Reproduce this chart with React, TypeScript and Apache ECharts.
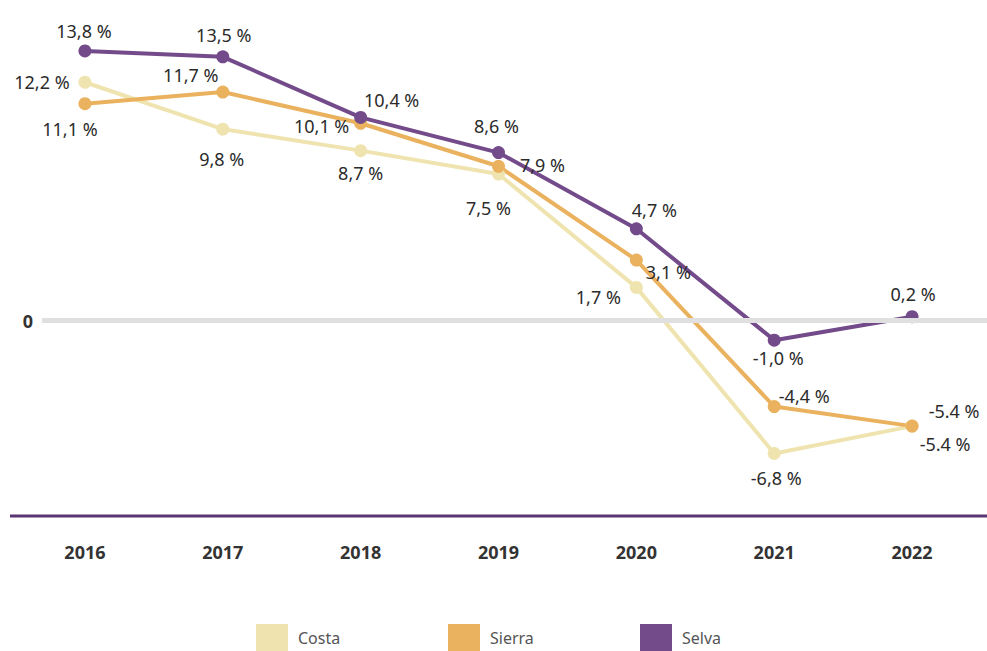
import React, { useEffect, useRef } from "react";
import * as echarts from "echarts";

const years = ["2016", "2017", "2018", "2019", "2020", "2021", "2022"];
const costa = [12.2, 9.8, 8.7, 7.5, 1.7, -6.8, -5.4];
const sierra = [11.1, 11.7, 10.1, 7.9, 3.1, -4.4, -5.4];
const selva = [13.8, 13.5, 10.4, 8.6, 4.7, -1.0, 0.2];
const costaLabels = ["12,2 %", "9,8 %", "8,7 %", "7,5 %", "1,7 %", "-6,8 %", "-5.4 %"];
const sierraLabels = ["11,1 %", "11,7 %", "10,1 %", "7,9 %", "3,1 %", "-4,4 %", "-5.4 %"];
const selvaLabels = ["13,8 %", "13,5 %", "10,4 %", "8,6 %", "4,7 %", "-1,0 %", "0,2 %"];
const costaOffsets = [[-43, 0], [-1, 30], [0, 22], [-10, 34], [-38, 10], [2, 25], [33, 18]];
const sierraOffsets = [[-15, 25], [-32, -17], [-39, 3], [44, -1], [32, 12], [30, -11], [42, -15]];
const selvaOffsets = [[-1, -20], [1, -22], [31, -17], [-2, -27], [18, -19], [4, 18], [1, -23]];

const FONT = "'Noto Sans', 'Open Sans', sans-serif";

function buildSeries(name: string, values: number[], labels: string[], offsets: number[][], color: string) {
  return {
    name,
    type: "line",
    xAxisIndex: 0,
    yAxisIndex: 0,
    data: values.map((v, i) => ({
      value: v,
      label: {
        show: true,
        position: "inside",
        offset: offsets[i],
        formatter: labels[i],
        color: "#2b2b2b",
        fontSize: 18,
        fontFamily: FONT,
      },
    })),
    symbol: "circle",
    symbolSize: 13,
    lineStyle: { color, width: 4 },
    itemStyle: { color },
    emphasis: { disabled: true },
  };
}

export default function App() {
  const ref = useRef<HTMLDivElement>(null);
  useEffect(() => {
    if (!ref.current) return;
    const chart = echarts.init(ref.current, undefined, { renderer: "svg" });
    const legendCommon = {
      top: 624,
      padding: 0,
      icon: "rect",
      itemWidth: 32,
      itemHeight: 27,
      itemGap: 10,
      textStyle: { color: "#555", fontSize: 16, fontFamily: FONT, padding: [7, 0, 0, 5] },
      selectedMode: false,
    };
    chart.setOption({
      animation: false,
      grid: [
        { left: 16, right: 6, top: 8, bottom: 135 },
        { left: 42, right: 0, top: 8, bottom: 135 },
      ],
      xAxis: [
        {
          type: "category",
          data: years,
          gridIndex: 0,
          boundaryGap: true,
          axisLine: { show: false },
          axisTick: { show: false },
          axisLabel: { color: "#333", fontSize: 18, fontWeight: "bold", fontFamily: FONT, margin: 27 },
        },
        { type: "category", data: years, gridIndex: 1, show: false },
      ],
      yAxis: [
        { type: "value", gridIndex: 0, min: -10, max: 16, show: false, splitLine: { show: false } },
        {
          type: "value",
          gridIndex: 1,
          min: -10,
          max: 16,
          interval: 2,
          axisLine: { show: false },
          axisTick: { show: false },
          splitLine: { show: false },
          axisLabel: {
            formatter: (v: number) => (v === 0 ? "0" : ""),
            color: "#333",
            fontSize: 18,
            fontWeight: "bold",
            fontFamily: FONT,
            margin: 9,
          },
        },
      ],
      legend: [
        { ...legendCommon, left: 256, data: ["Costa"], itemStyle: { color: "#efe4b0" } },
        { ...legendCommon, left: 448, data: ["Sierra"], itemStyle: { color: "#eab25e" } },
        { ...legendCommon, left: 640, data: ["Selva"], itemStyle: { color: "#734a8a" } },
      ],
      graphic: [
        {
          type: "line",
          shape: { x1: 10, y1: 516, x2: 987, y2: 516 },
          style: { stroke: "#5a3470", lineWidth: 3 },
          z: 1,
        },
      ],
      series: [
        {
          name: "zero",
          type: "line",
          xAxisIndex: 1,
          yAxisIndex: 1,
          data: [],
          z: 1,
          markLine: {
            silent: true,
            symbol: "none",
            label: { show: false },
            lineStyle: { color: "#e0e0e0", width: 5, type: "solid" },
            data: [{ yAxis: 0 }],
          },
        },
        buildSeries("Costa", costa, costaLabels, costaOffsets, "#efe4b0"),
        buildSeries("Sierra", sierra, sierraLabels, sierraOffsets, "#eab25e"),
        buildSeries("Selva", selva, selvaLabels, selvaOffsets, "#734a8a"),
      ],
    });
    return () => chart.dispose();
  }, []);
  return <div ref={ref} style={{ width: 987, height: 651, position: "absolute", left: 0, top: 0 }} />;
}
